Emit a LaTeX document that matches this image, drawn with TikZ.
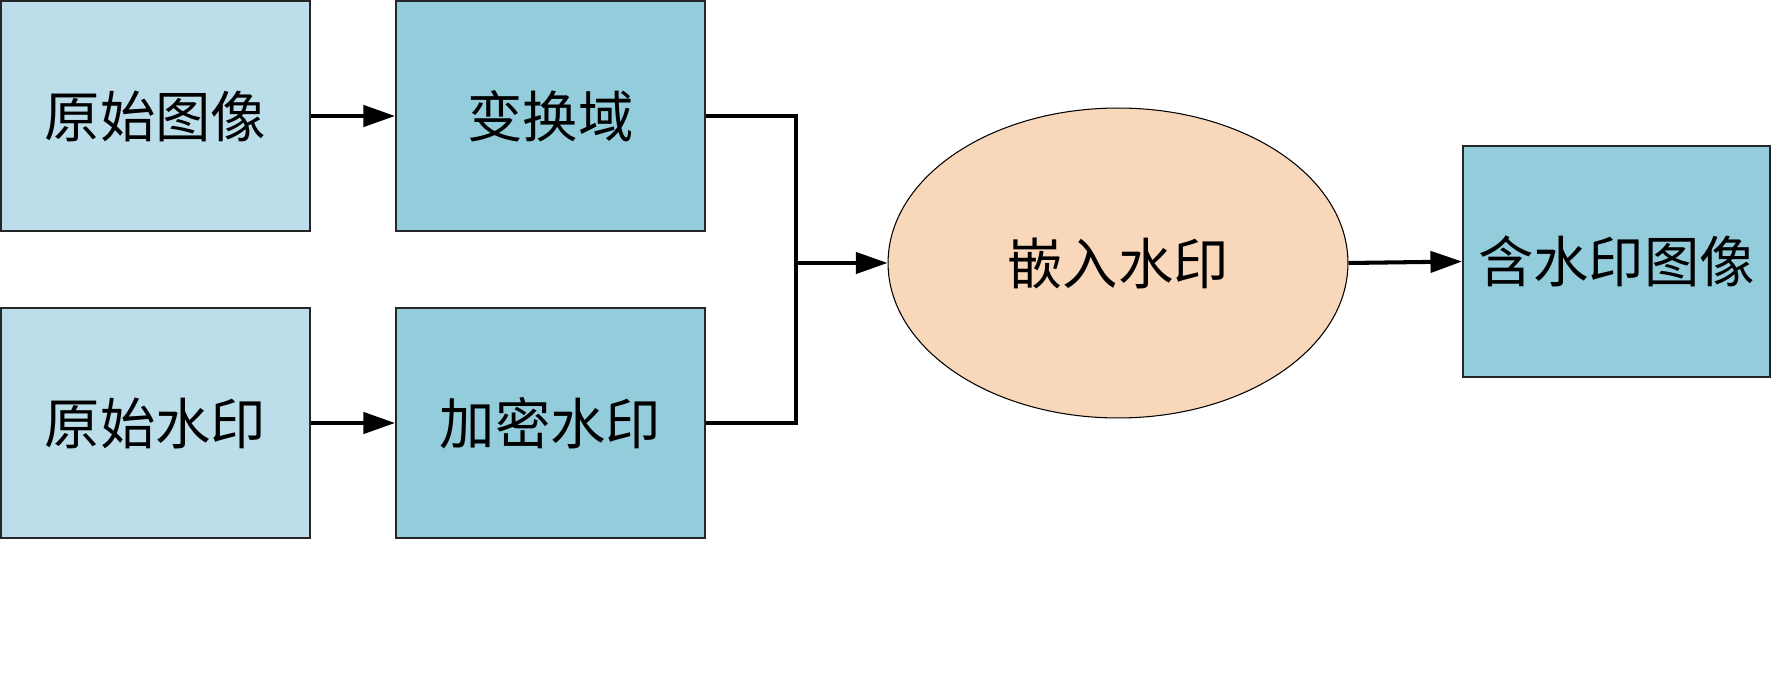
\documentclass[tikz,border=0pt]{standalone}
\usepackage{fontspec}
\setmainfont{Noto Sans CJK SC}
\usetikzlibrary{arrows.meta,shapes.geometric}
\definecolor{lightbox}{HTML}{BBDEEA}
\definecolor{midbox}{HTML}{93CDDC}
\definecolor{peach}{HTML}{F9D7BA}
\tikzset{
  lbl/.style={font=\fontsize{31.5}{36}\selectfont},
  box/.style={rectangle,draw=black!85,line width=1.1pt,minimum width=6.18cm,minimum height=4.6cm,inner sep=0pt,lbl},
  conn/.style={line width=2.3pt,black},
  arr/.style={conn,-{Triangle[length=18pt,width=12pt]}}
}
\begin{document}
\begin{tikzpicture}[x=0.02cm,y=-0.02cm]
\useasboundingbox (0,0) rectangle (1772,692);
\node[box,fill=lightbox] (a) at (155.5,116) {原始图像};
\node[box,fill=midbox] (b) at (550.5,116) {变换域};
\node[box,fill=lightbox] (c) at (155.5,423) {原始水印};
\node[box,fill=midbox] (d) at (550.5,423) {加密水印};
\node[ellipse,draw=black,line width=0.6pt,fill=peach,minimum width=9.2cm,minimum height=6.2cm,inner sep=0pt,lbl] (e) at (1118,263) {嵌入水印};
\node[box,fill=midbox,minimum width=6.14cm,minimum height=4.62cm] (f) at (1616.5,261.5) {含水印图像};
\coordinate (j) at (796,263);
\draw[arr] (a.east) -- (b.west);
\draw[arr] (c.east) -- (d.west);
\draw[conn] (b.east) -| (j);
\draw[conn] (d.east) -| (j);
\draw[arr] (j) -- (e.west);
\draw[arr] (e.east) -- (f.west);
\end{tikzpicture}
\end{document}
